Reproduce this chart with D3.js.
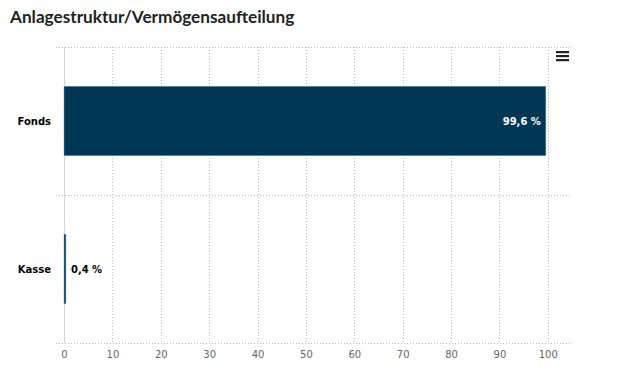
<!DOCTYPE html>
<html>
<head>
<meta charset="utf-8">
<script src="https://cdn.jsdelivr.net/npm/d3@7"></script>
<style>
  body { margin: 0; background: #fff; }
  svg { display: block; font-family: "DejaVu Sans", sans-serif; }
</style>
</head>
<body>
<div id="chart"></div>
<script>
// Anlagestruktur – Werte in Prozent
var categories = ["Fonds", "Kasse"];
var values = [99.6, 0.4];
var valueLabels = ["99,6 %", "0,4 %"];
var tickValues = [0, 10, 20, 30, 40, 50, 60, 70, 80, 90, 100];

var width = 624, height = 382;
var margin = {top: 47, right: 52, bottom: 39, left: 64};
var plotW = width - margin.left - margin.right;
var plotH = height - margin.top - margin.bottom;

var svg = d3.select("#chart").append("svg")
    .attr("width", width)
    .attr("height", height);

svg.append("text")
    .attr("x", 10)
    .attr("y", 23)
    .attr("font-family", "Lato, sans-serif")
    .attr("font-weight", "bold")
    .attr("font-size", 17.2)
    .attr("fill", "#222")
    .text("Anlagestruktur/Vermögensaufteilung");

var g = svg.append("g")
    .attr("transform", "translate(" + margin.left + "," + margin.top + ")");

var x = d3.scaleLinear().domain([0, 105]).range([0, plotW]);
var y = d3.scaleBand().domain(categories).range([0, plotH]).paddingInner(0).paddingOuter(0);
var barPad = 0.265;

// vertical grid
g.append("g")
    .selectAll("line")
    .data(tickValues.slice(1))
    .enter().append("line")
      .attr("x1", function(d) { return Math.round(x(d)) + 0.5; })
      .attr("x2", function(d) { return Math.round(x(d)) + 0.5; })
      .attr("y1", 0)
      .attr("y2", plotH)
      .attr("stroke", "#bbb")
      .attr("stroke-dasharray", "1,2");

// horizontal category separators
var seps = [0].concat(categories.map(function(c) { return y(c) + y.bandwidth(); }));
g.append("g")
    .selectAll("line")
    .data(seps)
    .enter().append("line")
      .attr("x1", -8)
      .attr("x2", plotW)
      .attr("y1", function(d) { return Math.round(d) + 0.5; })
      .attr("y2", function(d) { return Math.round(d) + 0.5; })
      .attr("stroke", "#bbb")
      .attr("stroke-dasharray", "1,2");

// left axis line
g.append("line")
    .attr("x1", 0.5).attr("x2", 0.5)
    .attr("y1", 0).attr("y2", plotH)
    .attr("stroke", "#d0d4dc");

// bars
g.selectAll("rect.bar")
    .data(values)
    .enter().append("rect")
      .attr("class", "bar")
      .attr("x", 0)
      .attr("y", function(d, i) { return y(categories[i]) + y.bandwidth() * barPad; })
      .attr("height", y.bandwidth() * (1 - 2 * barPad))
      .attr("width", function(d) { return Math.max(x(d), 1.5); })
      .attr("fill", "#003755")
      .attr("stroke", "#7fa3bd")
      .attr("stroke-width", 0.5);

// value labels
g.selectAll("text.val")
    .data(values)
    .enter().append("text")
      .attr("class", "val")
      .attr("x", function(d) { return d > 50 ? x(d) - 5 : x(d) + 5; })
      .attr("y", function(d, i) { return y(categories[i]) + y.bandwidth() / 2; })
      .attr("dy", "0.35em")
      .attr("text-anchor", function(d) { return d > 50 ? "end" : "start"; })
      .attr("font-size", 10)
      .attr("font-weight", "bold")
      .attr("fill", function(d) { return d > 50 ? "#fff" : "#000"; })
      .text(function(d, i) { return valueLabels[i]; });

// category labels
g.selectAll("text.cat")
    .data(categories)
    .enter().append("text")
      .attr("class", "cat")
      .attr("x", -13)
      .attr("y", function(d) { return y(d) + y.bandwidth() / 2; })
      .attr("dy", "0.35em")
      .attr("text-anchor", "end")
      .attr("font-size", 10)
      .attr("font-weight", "bold")
      .attr("fill", "#000")
      .text(function(d) { return d; });

// x axis labels
var xAxis = g.append("g")
    .attr("transform", "translate(0," + plotH + ")")
    .call(d3.axisBottom(x).tickValues(tickValues).tickSize(0).tickPadding(8));
xAxis.select(".domain").remove();
xAxis.selectAll("text")
    .attr("font-size", 10)
    .attr("font-family", "'DejaVu Sans', sans-serif")
    .attr("fill", "#666");

// menu icon
var menu = svg.append("g").attr("transform", "translate(556,51)");
[0, 4, 8].forEach(function(dy) {
  menu.append("rect")
      .attr("x", 0).attr("y", dy)
      .attr("width", 13).attr("height", 2.2)
      .attr("fill", "#222");
});
</script>
</body>
</html>
